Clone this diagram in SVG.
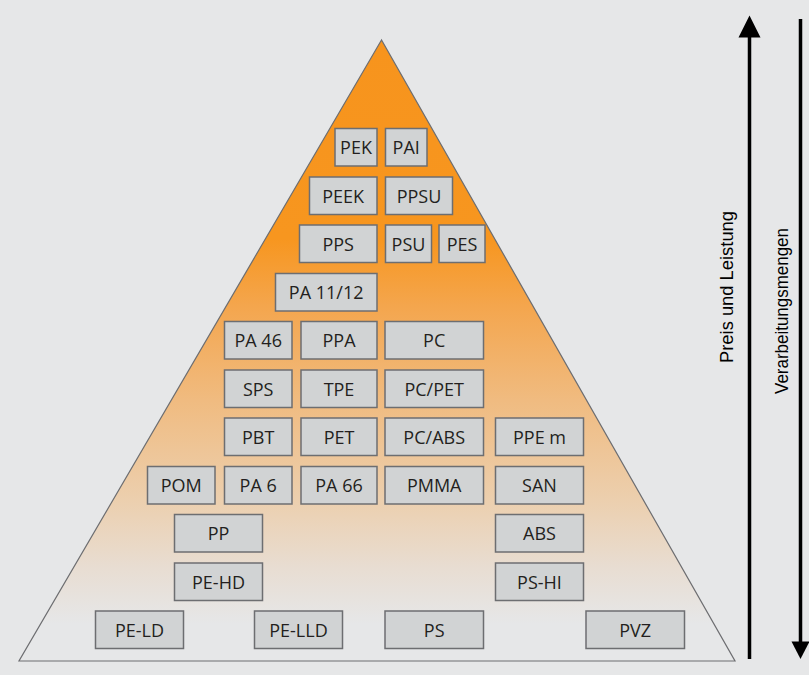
<svg xmlns="http://www.w3.org/2000/svg" width="809" height="675" viewBox="0 0 809 675">
<style>
.box{fill:#d1d3d4;stroke:#6d6e71;stroke-width:1.5}
.lbl{font-family:"Open Sans","Noto Sans","Liberation Sans",sans-serif;font-size:18px;fill:#231f20;text-anchor:middle}
.axis{font-family:"Liberation Sans",Arial,sans-serif;font-size:19px;fill:#000;text-anchor:middle}
.shaft{stroke:#000;stroke-width:3.5;fill:none}
</style>
<defs>
<linearGradient id="grad" gradientUnits="userSpaceOnUse" x1="0" y1="40" x2="0" y2="661">
<stop offset="0" stop-color="#f7941d"/>
<stop offset="0.32" stop-color="#f7961f"/>
<stop offset="0.43" stop-color="#f4a64e"/>
<stop offset="0.58" stop-color="#f0bb80"/>
<stop offset="0.74" stop-color="#eccfae"/>
<stop offset="0.85" stop-color="#e8ddd2"/>
<stop offset="0.94" stop-color="#e6e7e8"/>
<stop offset="1" stop-color="#e6e7e8"/>
</linearGradient>
</defs>
<rect x="0" y="0" width="809" height="675" fill="#e6e7e8"/>
<polygon points="381.5,40 19,661 735,661" fill="url(#grad)" stroke="#6d6e71" stroke-width="1.2"/>

<g id="n-pek"><rect class="box" x="335" y="128.5" width="42" height="37.5"/><text class="lbl" x="356" y="154">PEK</text></g>
<g id="n-pai"><rect class="box" x="385.5" y="128.5" width="41.5" height="37.5"/><text class="lbl" x="406.2" y="154">PAI</text></g>
<g id="n-peek"><rect class="box" x="309.5" y="177" width="67.5" height="37.5"/><text class="lbl" x="343.2" y="202.5">PEEK</text></g>
<g id="n-ppsu"><rect class="box" x="385.5" y="177" width="67" height="37.5"/><text class="lbl" x="419" y="202.5">PPSU</text></g>
<g id="n-pps"><rect class="box" x="299.5" y="225" width="77.5" height="37.5"/><text class="lbl" x="338.2" y="250.5">PPS</text></g>
<g id="n-psu"><rect class="box" x="385.5" y="225" width="46" height="37.5"/><text class="lbl" x="408.5" y="250.5">PSU</text></g>
<g id="n-pes"><rect class="box" x="439" y="225" width="46" height="37.5"/><text class="lbl" x="462" y="250.5">PES</text></g>
<g id="n-pa1112"><rect class="box" x="275.5" y="273.5" width="101.5" height="37.5"/><text class="lbl" x="326.2" y="299">PA 11/12</text></g>

<g id="n-pa46"><rect class="box" x="224.5" y="321.5" width="67.5" height="37.5"/><text class="lbl" x="258.2" y="347">PA 46</text></g>
<g id="n-ppa"><rect class="box" x="301" y="321.5" width="76" height="37.5"/><text class="lbl" x="339" y="347">PPA</text></g>
<g id="n-pc"><rect class="box" x="385" y="321.5" width="98.5" height="37.5"/><text class="lbl" x="434.2" y="347">PC</text></g>

<g id="n-sps"><rect class="box" x="224.5" y="370" width="67.5" height="37.5"/><text class="lbl" x="258.2" y="395.5">SPS</text></g>
<g id="n-tpe"><rect class="box" x="301" y="370" width="76" height="37.5"/><text class="lbl" x="339" y="395.5">TPE</text></g>
<g id="n-pcpet"><rect class="box" x="385" y="370" width="98.5" height="37.5"/><text class="lbl" x="434.2" y="395.5">PC/PET</text></g>

<g id="n-pbt"><rect class="box" x="224.5" y="418" width="67.5" height="37.5"/><text class="lbl" x="258.2" y="443.5">PBT</text></g>
<g id="n-pet"><rect class="box" x="301" y="418" width="76" height="37.5"/><text class="lbl" x="339" y="443.5">PET</text></g>
<g id="n-pcabs"><rect class="box" x="385" y="418" width="98.5" height="37.5"/><text class="lbl" x="434.2" y="443.5">PC/ABS</text></g>
<g id="n-ppem"><rect class="box" x="495.5" y="418" width="88" height="37.5"/><text class="lbl" x="539.5" y="443.5">PPE m</text></g>

<g id="n-pom"><rect class="box" x="147.5" y="466.5" width="67.5" height="37.5"/><text class="lbl" x="181.2" y="492">POM</text></g>
<g id="n-pa6"><rect class="box" x="224.5" y="466.5" width="67.5" height="37.5"/><text class="lbl" x="258.2" y="492">PA 6</text></g>
<g id="n-pa66"><rect class="box" x="301" y="466.5" width="76" height="37.5"/><text class="lbl" x="339" y="492">PA 66</text></g>
<g id="n-pmma"><rect class="box" x="385" y="466.5" width="98.5" height="37.5"/><text class="lbl" x="434.2" y="492">PMMA</text></g>
<g id="n-san"><rect class="box" x="495.5" y="466.5" width="88" height="37.5"/><text class="lbl" x="539.5" y="492">SAN</text></g>

<g id="n-pp"><rect class="box" x="174.5" y="514.5" width="88" height="37.5"/><text class="lbl" x="218.5" y="540">PP</text></g>
<g id="n-abs"><rect class="box" x="495.5" y="514.5" width="88" height="37.5"/><text class="lbl" x="539.5" y="540">ABS</text></g>

<g id="n-pehd"><rect class="box" x="174.5" y="563" width="88" height="37.5"/><text class="lbl" x="218.5" y="588.5">PE-HD</text></g>
<g id="n-pshi"><rect class="box" x="495.5" y="563" width="88" height="37.5"/><text class="lbl" x="539.5" y="588.5">PS-HI</text></g>

<g id="n-peld"><rect class="box" x="95.5" y="611" width="88" height="37.5"/><text class="lbl" x="139.5" y="636.5">PE-LD</text></g>
<g id="n-pelld"><rect class="box" x="254.5" y="611" width="88" height="37.5"/><text class="lbl" x="298.5" y="636.5">PE-LLD</text></g>
<g id="n-ps"><rect class="box" x="385" y="611" width="98.5" height="37.5"/><text class="lbl" x="434.2" y="636.5">PS</text></g>
<g id="n-pvz"><rect class="box" x="586" y="611" width="98.5" height="37.5"/><text class="lbl" x="635.2" y="636.5">PVZ</text></g>

<g id="connectors">
<line class="shaft" x1="749.5" y1="659" x2="749.5" y2="34"/>
<polygon points="738.5,37.5 760.5,37.5 749.5,15.5" fill="#000"/>
<line class="shaft" x1="800.5" y1="19" x2="800.5" y2="644"/>
<polygon points="791.5,641.5 809.5,641.5 800.5,659" fill="#000"/>
</g>
<g id="axis-labels">
<text class="axis" transform="translate(733,287) rotate(-90)" textLength="152" lengthAdjust="spacingAndGlyphs">Preis und Leistung</text>
<text class="axis" transform="translate(788,311) rotate(-90)" textLength="166" lengthAdjust="spacingAndGlyphs">Verarbeitungsmengen</text>
</g>
</svg>
